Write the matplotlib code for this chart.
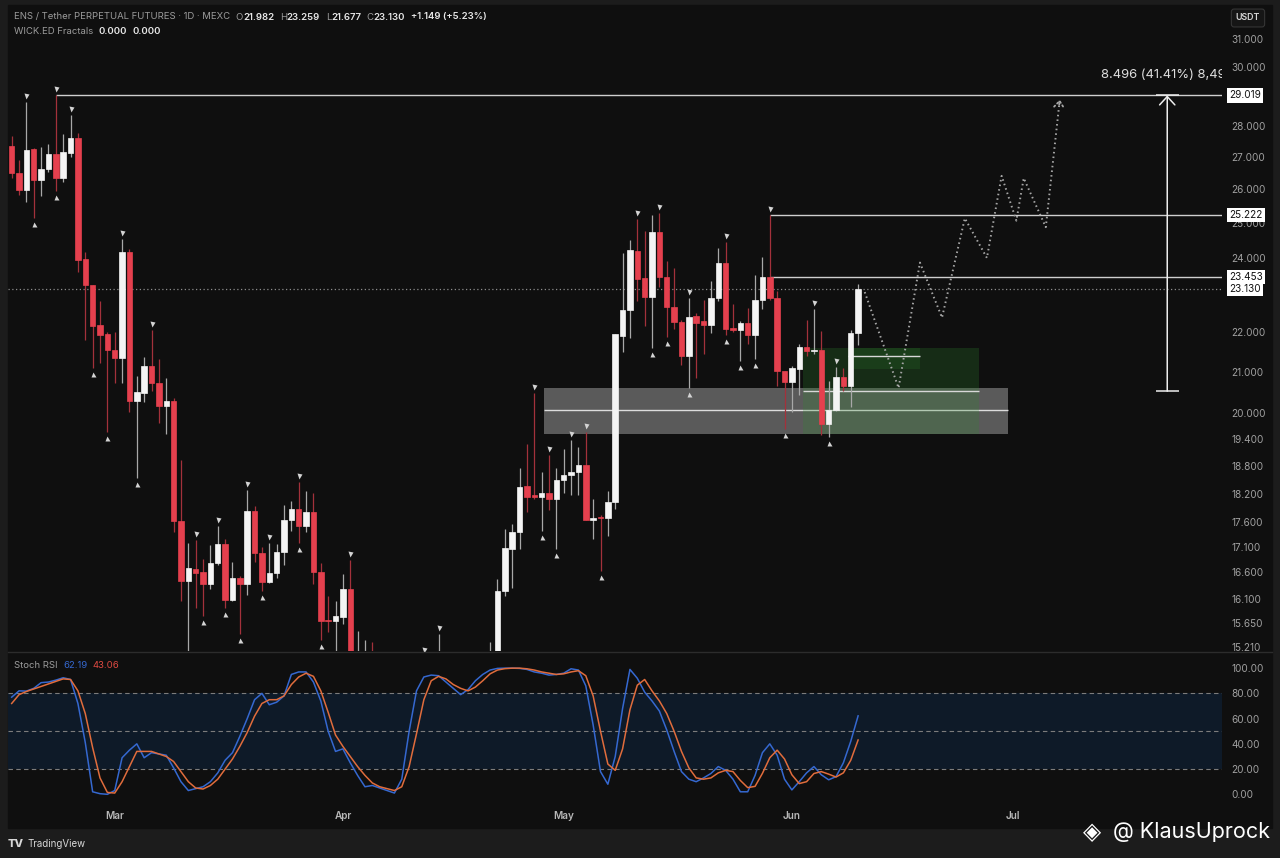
import numpy as np
import pandas as pd
import matplotlib
matplotlib.use('Agg')
import matplotlib.pyplot as plt
from matplotlib.patches import Rectangle
from matplotlib.lines import Line2D
from matplotlib.ticker import FixedLocator, FuncFormatter, NullLocator
from matplotlib.transforms import offset_copy

plt.rcParams['font.family'] = ['Inter', 'DejaVu Sans']

# ---------------- data ----------------
start_date = '2024-02-16'
opens = [27.35, 26.51, 25.97, 27.24, 26.28, 26.62, 27.10, 26.34, 27.14, 27.62,
         23.96, 23.24, 22.17, 21.95, 21.55, 21.33, 24.17, 20.28, 20.49, 21.15,
         20.71, 20.17, 20.28, 17.63, 16.43, 16.67, 16.60, 16.38, 16.79, 17.16,
         16.07, 16.50, 16.37, 17.83, 16.98, 16.41, 16.59, 17.00, 17.66, 17.88,
         17.52, 17.81, 16.61, 15.70, 15.68, 15.75, 16.28, 14.80, 14.95, 15.10,
         14.40, 14.60, 14.30, 14.50, 13.80, 13.30, 13.60, 12.60, 12.90, 14.20,
         13.60, 13.40, 13.80, 14.20, 14.00, 14.50, 14.80, 16.25, 17.06, 17.40,
         18.37, 18.17, 18.13, 18.21, 18.08, 18.50, 18.60, 18.66, 18.82, 17.66,
         17.72, 17.69, 18.02, 21.90, 22.57, 24.18, 23.43, 22.92, 24.73, 23.47,
         22.65, 22.26, 21.39, 22.40, 22.28, 22.19, 22.90, 23.86, 22.11, 22.05,
         22.23, 21.92, 22.84, 23.453, 22.90, 21.01, 20.74, 21.07, 21.61, 21.51,
         21.55, 19.74, 20.08, 20.86, 20.64, 21.982]
highs = [27.68, 26.91, 28.78, 27.30, 27.33, 27.43, 29.019, 27.73, 28.37, 27.77,
         24.17, 23.25, 22.81, 22.00, 22.00, 24.53, 24.23, 20.90, 21.35, 22.05,
         21.30, 20.85, 20.37, 18.93, 17.19, 17.24, 16.87, 17.15, 17.53, 17.26,
         16.81, 16.53, 18.29, 17.95, 17.10, 17.19, 17.16, 17.97, 18.04, 18.46,
         18.25, 18.21, 16.79, 16.14, 16.05, 16.56, 16.84, 15.50, 15.33, 15.30,
         14.90, 14.95, 14.80, 14.90, 14.30, 14.00, 15.05, 13.40, 15.44, 14.80,
         14.10, 14.00, 14.50, 14.70, 14.80, 15.30, 16.47, 17.46, 17.56, 18.75,
         19.29, 20.49, 18.68, 19.04, 18.75, 19.17, 19.38, 19.23, 19.57, 18.08,
         17.76, 18.27, 21.95, 24.14, 24.50, 25.10, 24.76, 25.23, 25.30, 23.90,
         23.70, 22.30, 22.90, 22.50, 22.84, 23.34, 24.27, 24.45, 22.73, 22.27,
         22.63, 23.52, 24.03, 25.222, 23.08, 21.02, 21.15, 21.70, 22.32, 22.59,
         22.03, 20.76, 21.11, 21.09, 22.05, 23.259]
lows = [26.33, 25.81, 25.60, 25.15, 25.78, 26.52, 25.94, 26.22, 27.00, 23.60,
        21.80, 21.10, 21.22, 19.56, 20.72, 20.72, 20.04, 18.54, 20.27, 20.54,
        19.78, 19.52, 17.40, 16.05, 14.90, 15.92, 15.77, 16.28, 16.75, 15.92,
        16.05, 15.45, 16.16, 16.81, 16.24, 16.39, 16.50, 16.75, 17.43, 17.19,
        17.41, 16.37, 15.33, 15.48, 15.00, 15.62, 14.60, 14.40, 14.60, 14.20,
        14.00, 14.20, 13.90, 13.60, 13.10, 12.60, 12.20, 11.50, 12.50, 13.30,
        13.00, 12.90, 13.50, 13.80, 13.70, 14.20, 14.60, 16.14, 16.30, 17.06,
        17.81, 18.10, 17.43, 17.86, 17.06, 18.21, 18.18, 18.18, 17.64, 17.26,
        16.63, 17.33, 17.87, 21.48, 21.84, 22.80, 22.14, 21.60, 23.20, 21.88,
        22.08, 21.17, 20.60, 20.85, 21.43, 21.97, 22.82, 21.92, 22.00, 21.26,
        21.68, 21.30, 22.59, 22.84, 20.64, 19.64, 20.04, 20.44, 21.39, 21.43,
        19.50, 19.45, 20.05, 20.52, 20.14, 21.677]
closes = [26.49, 25.97, 27.21, 26.28, 26.62, 27.10, 26.34, 27.15, 27.62, 23.94,
          23.24, 22.15, 21.91, 21.55, 21.33, 24.17, 20.28, 20.51, 21.15, 20.71,
          20.17, 20.29, 17.63, 16.43, 16.69, 16.58, 16.38, 16.79, 17.16, 16.07,
          16.50, 16.37, 17.83, 16.98, 16.41, 16.59, 17.00, 17.66, 17.88, 17.52,
          17.81, 16.61, 15.69, 15.68, 15.77, 16.28, 14.90, 15.00, 15.10, 14.40,
          14.60, 14.30, 14.50, 13.80, 13.30, 13.60, 12.60, 12.90, 14.20, 13.60,
          13.40, 13.80, 14.20, 14.00, 14.50, 14.80, 16.25, 17.08, 17.41, 18.35,
          18.14, 18.13, 18.21, 18.09, 18.50, 18.60, 18.68, 18.82, 17.66, 17.70,
          17.69, 18.02, 21.94, 22.57, 24.20, 23.41, 22.92, 24.73, 23.47, 22.65,
          22.26, 21.39, 22.38, 22.23, 22.19, 22.90, 23.84, 22.08, 22.05, 22.23,
          21.92, 22.84, 23.47, 22.89, 21.01, 20.74, 21.09, 21.61, 21.51, 21.55,
          19.74, 20.08, 20.86, 20.64, 21.982, 23.130]

stoch_k = [77, 82, 81.8, 84, 88.5, 89, 90.5, 92.4, 91, 72,
           41, 2, 0.5, 0, 3, 29, 35, 40, 29, 33,
           32, 31, 21, 10, 3, 4.5, 6, 10, 17, 27,
           33, 46, 60, 75, 80, 71, 73, 78, 95, 97,
           97, 89, 74, 50, 34, 36, 25, 15, 6, 7,
           5, 3, 1, 12, 50, 82, 93, 94.5, 94, 89,
           84, 79, 83, 90, 95, 98.5, 99.8, 100, 100, 99.8,
           99, 97, 96, 94.5, 95, 96, 99.5, 98.5, 86, 55,
           18, 8, 30, 68, 99, 92, 81, 74, 66, 51,
           34, 18, 12, 10, 13, 16.5, 22, 19, 12, 2,
           2, 15, 33, 40, 31, 12, 3.5, 10, 17, 22,
           15.5, 11.5, 14, 25, 42, 62.19]
stoch_d = [72, 79, 81.5, 83.5, 85.5, 87.5, 89.5, 91.5, 91, 82,
           64, 37, 13, 1.5, 1, 10, 22, 34, 34, 34,
           32, 30, 26, 18, 10, 5, 4.2, 7, 12, 20,
           28, 38, 49, 62, 72, 75, 75, 78, 87, 93,
           96, 93.5, 82, 65, 47, 38, 30, 22, 15, 9,
           6, 4.5, 3, 6, 22, 48, 75, 90, 93.5, 91.5,
           87, 84, 82, 85, 90, 95.5, 98.5, 99.6, 100, 100,
           99.5, 98.5, 97, 96, 95, 95.5, 97, 98, 94, 78,
           50, 24, 19, 36, 67, 86.5, 91, 82, 74, 64,
           50, 34, 21, 13, 12, 13, 17, 19, 18, 11,
           5.3, 6.3, 16.6, 29, 35, 28, 15.5, 8.5, 10, 16.5,
           18, 16, 13.7, 17, 27, 43.06]

fractal_high_idx = [2, 6, 8, 15, 19, 25, 28, 32, 35, 39, 46, 56, 58, 71, 73, 76, 78,
                    85, 88, 92, 97, 103, 109, 112]
fractal_low_idx = [3, 6, 11, 13, 17, 26, 29, 31, 34, 39, 42, 72, 74, 80, 87, 89, 92,
                   97, 99, 101, 105, 111]

price_ticks = [31, 30, 28, 27, 26, 25, 24, 22, 21, 20, 19.4, 18.8, 18.2, 17.6,
               17.1, 16.6, 16.1, 15.65, 15.21]
rsi_ticks = [0, 20, 40, 60, 80, 100]
month_labels = ['Mar', 'Apr', 'May', 'Jun', 'Jul']
month_starts = ['2024-03-01', '2024-04-01', '2024-05-01', '2024-06-01', '2024-07-01']

level_values = [29.019, 25.222, 23.453]
level_start_idx = [6, 103, 103]
last_price = 23.130

grey_zone = [72.3, 135.4, 19.53, 20.61]          # x0, x1, low, high
grey_zone_mid = 20.07
green_zone = [107.5, 131.4, 19.53, 21.58]
green_zone_small = [113.6, 123.4, 21.07, 21.58]
green_lines = [(113.6, 123.4, 21.38), (107.5, 131.4, 20.54)]

proj_x = [115.9, 120.5, 123.4, 126.4, 129.5, 132.5, 134.5, 136.5, 137.5, 140.5, 142.4]
proj_y = [23.05, 20.60, 23.86, 22.37, 25.13, 23.99, 26.41, 25.06, 26.34, 24.87, 28.88]

measure_x = 157.0
measure_lo, measure_hi = 20.523, 29.019
measure_label = '8.496 (41.41%) 8,496'
measure_label_pos = (148.0, 29.72)

# ---------------- style ----------------
BG = '#0f0f0f'
FRAME = '#1c1c1c'
UP = '#f4f4f4'
DN = '#e5404e'
WICK_UP = '#a8a8a8'
WICK_DN = '#a3313b'
GREY_TXT = '#9c9c9c'
VAL_TXT = '#e8e8e8'
K_COL = '#3568d0'
D_COL = '#e06c3c'
TICK_SIZE = 7.2

W, HH = 1280, 858


def frect(x0, y0, x1, y1):
    return [x0 / W, 1 - y1 / HH, (x1 - x0) / W, (y1 - y0) / HH]


fig = plt.figure(figsize=(12.8, 8.58), dpi=100)
fig.patch.set_facecolor(FRAME)
fig.add_artist(Rectangle((8 / W, 1 - 828 / HH), (1272 - 8) / W, (828 - 5) / HH,
                         transform=fig.transFigure, color=BG, zorder=0))

dates = pd.date_range(start_date, periods=len(opens), freq='D')
xi = np.arange(len(opens))
month_pos = [(pd.Timestamp(m) - dates[0]).days for m in month_starts]
XLIM = (-0.5, 164.44)

# ---------------- price pane ----------------
ax = fig.add_axes(frect(8, 5, 1222, 651))
ax.set_facecolor(BG)
ax.set_yscale('log')
ax.set_xlim(*XLIM)
ax.set_ylim(15.14, 32.26)
for s in ax.spines.values():
    s.set_visible(False)
ax.set_xticks([])
ax.yaxis.tick_right()
ax.yaxis.set_major_locator(FixedLocator(price_ticks))
ax.yaxis.set_minor_locator(NullLocator())
ax.yaxis.set_major_formatter(FuncFormatter(lambda v, p: f'{v:.3f}'))
ax.tick_params(axis='y', length=0, pad=7, labelsize=TICK_SIZE, labelcolor='#a0a0a0')

o = np.array(opens); c = np.array(closes); h = np.array(highs); l = np.array(lows)
up = c >= o
lo_b = np.minimum(o, c); hi_b = np.maximum(o, c)

# zones
ax.add_patch(Rectangle((grey_zone[0], grey_zone[2]), grey_zone[1] - grey_zone[0],
                       grey_zone[3] - grey_zone[2], color='#5a5a5a', lw=0, zorder=1))
ax.hlines(grey_zone_mid, grey_zone[0], grey_zone[1], color='#dcdcdc', lw=1.0, zorder=2)
ax.add_patch(Rectangle((green_zone[0], green_zone[2]), green_zone[1] - green_zone[0],
                       green_zone[3] - green_zone[2], color=(0.18, 0.55, 0.18, 0.24), lw=0, zorder=2.1))
ax.add_patch(Rectangle((green_zone_small[0], green_zone_small[2]),
                       green_zone_small[1] - green_zone_small[0],
                       green_zone_small[3] - green_zone_small[2],
                       color=(0.18, 0.55, 0.18, 0.18), lw=0, zorder=2.2))
for x0, x1, yv in green_lines:
    ax.hlines(yv, x0, x1, color='#d8d8d8', lw=1.0, zorder=2.5)

# current price dotted line
ax.axhline(last_price, color='#8c8c8c', lw=0.9, ls=(0, (1, 2)), zorder=1.5)
# level lines
for v, s0 in zip(level_values, level_start_idx):
    ax.hlines(v, s0, XLIM[1], color='#cfcfcf', lw=1.0, zorder=2.5)

# candles
ax.vlines(xi[up], l[up], h[up], color=WICK_UP, lw=0.9, zorder=3)
ax.vlines(xi[~up], l[~up], h[~up], color=WICK_DN, lw=0.9, zorder=3)
ax.bar(xi[up], hi_b[up] - lo_b[up], bottom=lo_b[up], width=0.74, color=UP,
       edgecolor=UP, lw=0.5, zorder=4)
ax.bar(xi[~up], hi_b[~up] - lo_b[~up], bottom=lo_b[~up], width=0.74, color=DN,
       edgecolor=DN, lw=0.5, zorder=4)

# fractal markers
tr_up = offset_copy(ax.transData, fig=fig, x=0, y=6, units='dots')
tr_dn = offset_copy(ax.transData, fig=fig, x=0, y=-6, units='dots')
ax.plot(xi[fractal_high_idx], h[fractal_high_idx], 'v', ms=3.6, color='#d4d4d4',
        mec='none', transform=tr_up, zorder=5, clip_on=True)
ax.plot(xi[fractal_low_idx], l[fractal_low_idx], '^', ms=3.6, color='#d4d4d4',
        mec='none', transform=tr_dn, zorder=5, clip_on=True)

# projection path
ax.plot(proj_x, proj_y, color='#a6a6a6', lw=1.4, ls=(0, (0.8, 1.6)), zorder=5)
tail_x = proj_x[-1] - 0.04 * (proj_x[-1] - proj_x[-2])
tail_y = proj_y[-1] * (proj_y[-2] / proj_y[-1]) ** 0.04
ax.annotate('', xy=(proj_x[-1], proj_y[-1]), xytext=(tail_x, tail_y),
            arrowprops=dict(arrowstyle='->,head_length=0.45,head_width=0.35',
                            color='#a6a6a6', lw=1.3, ls=(0, (0.8, 1.6)),
                            shrinkA=0, shrinkB=0), zorder=5)

# measure tool
ax.annotate('', xy=(measure_x, measure_hi), xytext=(measure_x, measure_lo),
            arrowprops=dict(arrowstyle='->,head_length=0.6,head_width=0.55',
                            color='#ededed', lw=1.1, shrinkA=0, shrinkB=0), zorder=6)
ax.hlines([measure_lo, measure_hi], measure_x - 1.55, measure_x + 1.55,
          color='#ededed', lw=1.1, zorder=6)
ax.text(measure_label_pos[0], measure_label_pos[1], measure_label, color='#dedede',
        fontsize=9.4, ha='left', va='center', clip_on=True, zorder=6)

# price labels on axis
for v in level_values + [last_price]:
    ax.annotate(f'{v:.3f}', xy=(1, v), xycoords=('axes fraction', 'data'),
                xytext=(7, 0), textcoords='offset pixels', ha='left', va='center',
                fontsize=TICK_SIZE, color='#111111', annotation_clip=False, zorder=10,
                bbox=dict(boxstyle='square,pad=0.22', fc='white', ec='none'))

# ---------------- stoch RSI pane ----------------
ax2 = fig.add_axes(frect(8, 652, 1222, 828))
ax2.set_facecolor(BG)
ax2.set_xlim(*XLIM)
ax2.set_ylim(-26.7, 112.8)
for s in ax2.spines.values():
    s.set_visible(False)
ax2.axhspan(20, 80, color='#0e1a28', lw=0, zorder=0)
for lv in (80, 50, 20):
    ax2.axhline(lv, color='#7c7c7c', lw=0.8, ls=(0, (4, 3)), zorder=1)
ax2.plot(xi, stoch_k, color=K_COL, lw=1.1, zorder=3)
ax2.plot(xi, stoch_d, color=D_COL, lw=1.1, zorder=4)
ax2.yaxis.tick_right()
ax2.set_yticks(rsi_ticks)
ax2.yaxis.set_major_formatter(FuncFormatter(lambda v, p: f'{v:.2f}'))
ax2.tick_params(axis='y', length=0, pad=7, labelsize=TICK_SIZE, labelcolor='#a0a0a0')
ax2.set_xticks(month_pos)
ax2.set_xticklabels(month_labels, fontweight='semibold')
ax2.tick_params(axis='x', length=0, pad=-12.5, labelsize=7.2, labelcolor='#b8b8b8')

# separator between panes
fig.add_artist(Line2D([8 / W, 1272 / W], [1 - 651.5 / HH] * 2, transform=fig.transFigure,
                      color='#2c2c2c', lw=1))


# ---------------- texts ----------------
def chain(host, parts, x_px, y_px, size):
    s0, c0, w0 = parts[0]
    prev = host.annotate(s0, xy=(x_px / W, 1 - y_px / HH), xycoords='figure fraction',
                         color=c0, fontsize=size, fontweight=w0, ha='left', va='center',
                         annotation_clip=False, zorder=20)
    for s, col, wt, gap in parts[1:]:
        prev = host.annotate(s, xy=(1, 0.5), xycoords=prev, xytext=(gap, 0),
                             textcoords='offset points', ha='left', va='center',
                             color=col, fontsize=size, fontweight=wt,
                             annotation_clip=False, zorder=20)
    return prev


chain(ax, [('ENS / Tether PERPETUAL FUTURES · 1D · MEXC', GREY_TXT, 'normal'),
           ('O', GREY_TXT, 'normal', 4), ('21.982', VAL_TXT, 'semibold', 0),
           ('H', GREY_TXT, 'normal', 4), ('23.259', VAL_TXT, 'semibold', 0),
           ('L', GREY_TXT, 'normal', 4), ('21.677', VAL_TXT, 'semibold', 0),
           ('C', GREY_TXT, 'normal', 4), ('23.130', VAL_TXT, 'semibold', 0),
           ('+1.149 (+5.23%)', VAL_TXT, 'semibold', 4)], 14, 17, 6.85)
chain(ax, [('WICK.ED Fractals', GREY_TXT, 'normal'),
           ('0.000', VAL_TXT, 'semibold', 4), ('0.000', VAL_TXT, 'semibold', 4)], 14, 31, 6.85)
chain(ax2, [('Stoch RSI', GREY_TXT, 'normal'),
            ('62.19', K_COL, 'normal', 4), ('43.06', '#e04a42', 'normal', 4)], 14, 666, 6.85)

fig.text(1248 / W, 1 - 18 / HH, 'USDT', ha='center', va='center', fontsize=6.4,
         color='#d6d6d6', fontweight='semibold',
         bbox=dict(boxstyle='round,pad=0.5,rounding_size=0.3', fc='#161616',
                   ec='#353535', lw=0.8))

fig.text(8 / W, 1 - 844 / HH, 'TV', ha='left', va='center', fontsize=8,
         color='#d8d8d8', fontweight='heavy')
fig.text(27 / W, 1 - 844 / HH, 'TradingView', ha='left', va='center', fontsize=7,
         color='#d8d8d8')
fig.text(1092 / W, 1 - 832 / HH, '◈', ha='center', va='center', fontsize=17,
         color='white', family='DejaVu Sans')
fig.text(1113 / W, 1 - 832 / HH, '@ KlausUprock', ha='left', va='center',
         fontsize=15.5, color='white')

fig.savefig('out.png', dpi=100, facecolor=fig.get_facecolor())
